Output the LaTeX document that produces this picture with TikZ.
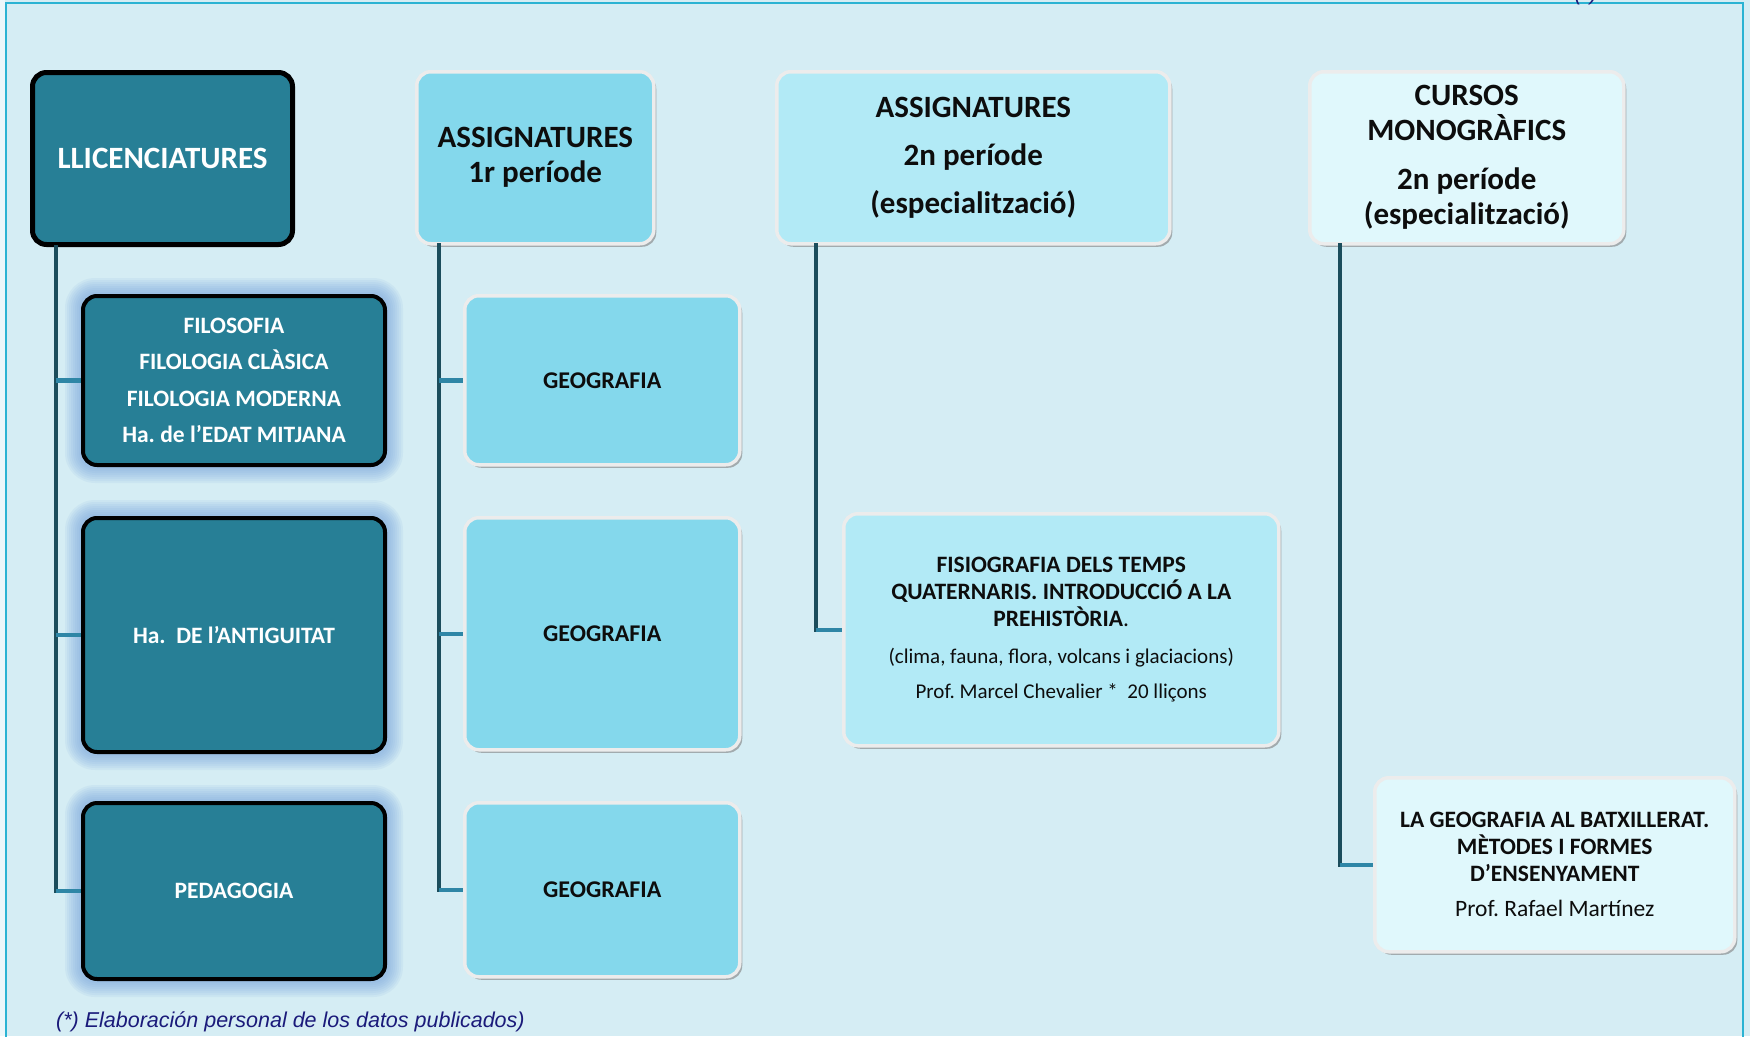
\documentclass[tikz,border=0pt]{standalone}
\usepackage{fontspec}
\setmainfont{Carlito}
\newfontfamily\notefont{Liberation Sans}
\frenchspacing
\usetikzlibrary{calc}
\usetikzlibrary{backgrounds}
\usetikzlibrary{shadows}
\definecolor{bgblue}{HTML}{D5EDF4}
\definecolor{framecyan}{HTML}{2BB3D3}
\definecolor{tealbox}{HTML}{277F96}
\definecolor{headone}{HTML}{84D8EC}
\definecolor{headtwo}{HTML}{B2EAF6}
\definecolor{headthree}{HTML}{E0F8FC}
\definecolor{glowblue}{HTML}{6F9EDB}
\definecolor{trunkcol}{HTML}{1B4D5C}
\definecolor{branchcol}{HTML}{2E86A6}
\definecolor{notenavy}{HTML}{1A1A7A}
\tikzset{
	boxstyle/.style={rectangle,anchor=north west,rounded corners=14pt,align=center,inner sep=4pt},
	tealstyle/.style={boxstyle,draw=black,line width=4pt,fill=tealbox,text=white,font=\bfseries\fontsize{23.5}{36.5}\selectfont},
	lightstyle/.style={boxstyle,draw=white!85!gray,line width=3.5pt,text=black!95,drop shadow={shadow xshift=2.5pt,shadow yshift=-3pt,opacity=.6,fill=gray}},
	headfont/.style={font=\bfseries\fontsize{31}{35}\selectfont},
	trunkline/.style={draw=trunkcol,line width=4.5pt,line cap=rect},
	branchline/.style={draw=branchcol,line width=4.5pt},
	notestyle/.style={text=notenavy,font=\notefont\itshape\fontsize{21.5}{24}\selectfont,inner sep=0pt}
}
\begin{document}
\begin{tikzpicture}[x=1pt,y=-1pt]
	\useasboundingbox (0,0) rectangle (1750,1036);
	\draw[framecyan,line width=2pt] (6,1040) -- (6,3) -- (1743,3) -- (1743,1040);
	\node[notestyle,anchor=base] (mark) at (1586,1) {(*)};
	% cabeceras
	\node[tealstyle,line width=5pt,headfont,minimum width=260pt,minimum height=172pt] (llic) at (30,70) {LLICENCIATURES};
	\node[lightstyle,fill=headone,headfont,minimum width=237pt,minimum height=172pt] (asg1) at (415,70) {ASSIGNATURES\\1r període};
	\node[lightstyle,fill=headtwo,font=\bfseries\fontsize{31}{48}\selectfont,minimum width=393pt,minimum height=172pt] (asg2) at (775,70) {ASSIGNATURES\\2n període\\(especialització)};
	\node[lightstyle,fill=headthree,headfont,minimum width=314pt,minimum height=172pt] (curs) at (1308,70) {CURSOS\\MONOGRÀFICS\\[14pt]2n període\\(especialització)};
	% llicenciatures
	\node[tealstyle,minimum width=302pt,minimum height=169pt] (filo) at (81,294) {FILOSOFIA\\FILOLOGIA CLÀSICA\\FILOLOGIA MODERNA\\Ha. de l’EDAT MITJANA};
	\node[tealstyle,minimum width=302pt,minimum height=234pt] (anti) at (81,516) {Ha.\ \ DE l’ANTIGUITAT};
	\node[tealstyle,minimum width=302pt,minimum height=176pt] (peda) at (81,801) {PEDAGOGIA};
	% assignatures
	\node[lightstyle,fill=headone,font=\bfseries\fontsize{24}{28}\selectfont,minimum width=275pt,minimum height=169pt] (geoa) at (463,294) {GEOGRAFIA};
	\node[lightstyle,fill=headone,font=\bfseries\fontsize{24}{28}\selectfont,minimum width=275pt,minimum height=232pt] (geob) at (463,516) {GEOGRAFIA};
	\node[lightstyle,fill=headone,font=\bfseries\fontsize{24}{28}\selectfont,minimum width=275pt,minimum height=174pt] (geoc) at (463,801) {GEOGRAFIA};
	\node[lightstyle,fill=headtwo,font=\bfseries\fontsize{23.5}{27}\selectfont,minimum width=435pt,minimum height=232pt] (fisio) at (842,512) {FISIOGRAFIA DELS TEMPS\\QUATERNARIS. INTRODUCCIÓ A LA\\PREHISTÒRIA{\normalfont .}\\[10pt]{\normalfont\fontsize{21}{27}\selectfont (clima, fauna, flora, volcans i glaciacions)}\\[8pt]{\normalfont\fontsize{21}{27}\selectfont Prof. Marcel Chevalier *\ \ 20 lliçons}};
	\node[lightstyle,fill=headthree,font=\bfseries\fontsize{23.5}{27}\selectfont,minimum width=360pt,minimum height=174pt] (batx) at (1373,776) {LA GEOGRAFIA AL BATXILLERAT.\\MÈTODES I FORMES\\D’ENSENYAMENT\\[8pt]{\normalfont Prof. Rafael Martínez}};
	% fons i glow
	\begin{scope}[on background layer]
		\fill[bgblue] (0,0) rectangle (1750,1036);
		\fill[white!55!bgblue] (0,0) rectangle (5,1036);
		\foreach \n in {filo,anti,peda}
			\foreach \g in {16,14,...,2}
				\fill[glowblue,opacity=.09,rounded corners=14pt+\g pt] ($(\n.south west)+(-\g,\g)$) rectangle ($(\n.north east)+(\g,-\g)$);
	\end{scope}
	% lineas
	\draw[trunkline] ($(llic.south west)+(26,0)$) coordinate (t1) -- (t1 |- peda.west);
	\draw[branchline] (t1 |- filo.west) -- (filo.west);
	\draw[branchline] (t1 |- anti.west) -- (anti.west);
	\draw[branchline] (t1 |- peda.west) -- (peda.west);
	\draw[trunkline] ($(asg1.south west)+(24,0)$) coordinate (t2) -- (t2 |- geoc.west);
	\draw[branchline] (t2 |- geoa.west) -- (geoa.west);
	\draw[branchline] (t2 |- geob.west) -- (geob.west);
	\draw[branchline] (t2 |- geoc.west) -- (geoc.west);
	\draw[trunkline] ($(asg2.south west)+(41,0)$) coordinate (t3) -- (t3 |- fisio.west);
	\draw[branchline] (t3 |- fisio.west) -- (fisio.west);
	\draw[trunkline] ($(curs.south west)+(32,0)$) coordinate (t4) -- (t4 |- batx.west);
	\draw[branchline] (t4 |- batx.west) -- (batx.west);
	\node[notestyle,anchor=base west] (nota) at (56,1027) {(*) Elaboración personal de los datos publicados)};
\end{tikzpicture}
\end{document}
